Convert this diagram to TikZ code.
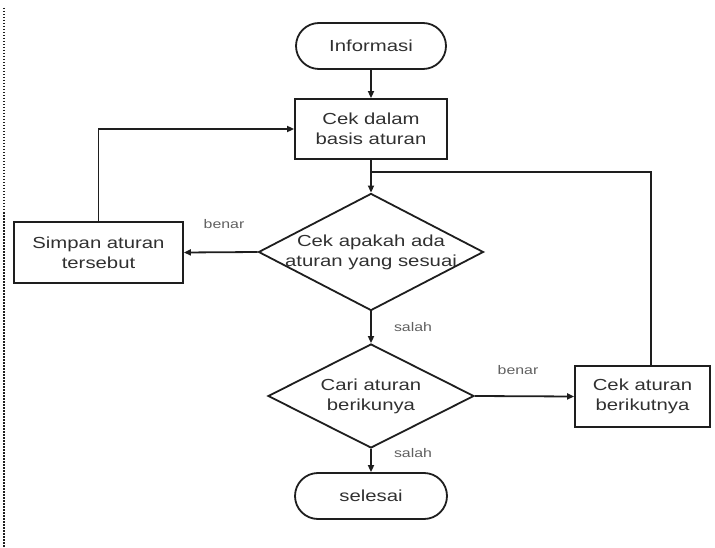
\documentclass[tikz,border=0pt]{standalone}
\usepackage{fontspec}
\setmainfont[FakeStretch=1.27]{Liberation Sans}
\usetikzlibrary{shapes.geometric,arrows.meta}
\definecolor{ink}{HTML}{1E1E1E}
\definecolor{txt}{HTML}{303030}
\definecolor{lbl}{HTML}{606060}
\begin{document}
\begin{tikzpicture}[x=1pt,y=-1pt,
  line/.style={draw=ink,line width=1.8pt},
  flow/.style={line,-{Triangle[length=7pt,width=6pt]}},
  box/.style={draw=ink,line width=1.8pt,rectangle,align=center,text=txt,
    font=\fontsize{16}{20}\selectfont,inner sep=0pt},
  term/.style={box,rounded corners=23pt,minimum width=150pt,minimum height=46pt},
  decision/.style={box,diamond,aspect=2},
  tag/.style={text=lbl,font=\fontsize{12.5}{14}\selectfont,inner sep=0pt}]
\useasboundingbox (0,0) rectangle (715,548);

% dotted margin rule
\draw[ink,line width=2pt,dash pattern=on 1.5pt off 1.5pt] (4,8) -- (4,548);

% nodes
\node[term] (info) at (371,46) {Informasi};
\node[box,minimum width=152pt,minimum height=60pt] (cek) at (371,129) {Cek dalam\\basis aturan};
\node[decision,aspect=1.92,inner xsep=-7pt,minimum width=225pt,minimum height=117pt] (d1) at (371,252) {Cek apakah ada\\aturan yang sesuai};
\node[box,minimum width=169pt,minimum height=61pt] (simpan) at (98.5,252.5) {Simpan aturan\\tersebut};
\node[decision,minimum width=206pt,minimum height=104pt] (d2) at (371,396) {Cari aturan\\berikunya};
\node[box,minimum width=135pt,minimum height=61pt] (next) at (642.5,396.5) {Cek aturan\\berikutnya};
\node[term,minimum width=152pt] (end) at (371,496) {selesai};

% junction of the loop back from the right
\coordinate (j1) at (371,172);
\coordinate (j2) at (651,172);

% connectors
\draw[flow] (info) -- (cek);
\draw[flow] (cek.south) -- (d1.north);
\draw[flow] (d1.west) -- (simpan.east);
\draw[flow] (simpan.north) |- (cek.west);
\draw[flow] (d1.south) -- (d2.north);
\draw[flow] (d2.east) -- (next.west);
\draw[line] (next.north -| j2) -- (j2) -- (j1);
\draw[flow] (d2.south) -- (end.north);

% edge labels
\node[tag] (l1) at (224,224) {benar};
\node[tag] (l2) at (413,327) {salah};
\node[tag] (l3) at (518,370) {benar};
\node[tag] (l4) at (413,453) {salah};
\end{tikzpicture}
\end{document}
